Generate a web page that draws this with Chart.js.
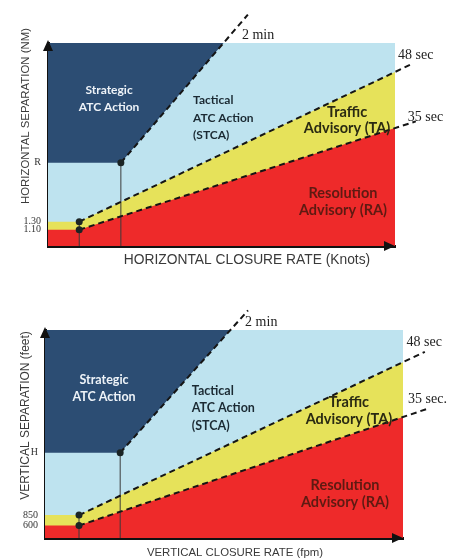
<!DOCTYPE html>
<html>
<head>
<meta charset="utf-8">
<script src="https://cdn.jsdelivr.net/npm/chart.js@4.4.0/dist/chart.umd.min.js"></script>
<style>
  html, body { margin: 0; padding: 0; background: #fff; }
  .box { position: relative; width: 463px; height: 280px; }
</style>
</head>
<body>
<div class="box"><canvas id="hChart"></canvas></div>
<div class="box"><canvas id="vChart"></canvas></div>
<script>
// schematic charts, both axes on a 0..100 grid
// horizontal (NM / knots)
const hTickValues = [8, 12, 41];
const hTickLabels = ["1.10", "1.30", "R"];
const hTwoMinX = [21, 57.6];
const hTwoMinY = [41, 114];
const h48secX = [9, 104.3];
const h48secY = [12, 89.2];
const h35secX = [9, 106];
const h35secY = [8, 61.4];

// vertical (feet / fpm)
const vTickValues = [6, 11, 41];
const vTickLabels = ["600", "850", "H"];
const vTwoMinX = [21, 56.7];
const vTwoMinY = [41, 109.4];
const v48secX = [9.5, 106.1];
const v48secY = [11, 89.5];
const v35secX = [9.5, 107.5];
const v35secY = [6, 62.5];

const LIGHT_BLUE = "#bee3ef";
const DARK_BLUE = "#2c4d73";
const YELLOW = "#e6e25a";
const RED = "#ee2a2a";

function pts(xs, ys) {
    return xs.map((x, i) => ({ x: x, y: ys[i] }));
}

const notesPlugin = {
    id: "notes",
    afterDatasetsDraw(chart, args, opts) {
        const ctx = chart.ctx;
        const sx = chart.scales.x, sy = chart.scales.y;
        ctx.save();
        ctx.textBaseline = "middle";
        for (const r of opts.regions) {
            ctx.font = "bold " + r.size + "px Lato";
            ctx.fillStyle = r.color;
            ctx.textAlign = r.align;
            const px = sx.getPixelForValue(r.x);
            const py = sy.getPixelForValue(r.y);
            const top = py - (r.lines.length - 1) * r.lh / 2;
            r.lines.forEach((t, i) => ctx.fillText(t, px, top + i * r.lh));
        }
        ctx.font = "14px 'Liberation Serif'";
        ctx.fillStyle = "#222";
        ctx.textAlign = "left";
        for (const n of opts.times) {
            ctx.fillText(n.text, sx.getPixelForValue(n.x), sy.getPixelForValue(n.y));
        }
        ctx.restore();
    },
    afterDraw(chart, args, opts) {
        const ctx = chart.ctx;
        const a = chart.chartArea;
        ctx.save();
        ctx.fillStyle = "#111";
        ctx.beginPath();
        ctx.moveTo(a.left, a.top - 3);
        ctx.lineTo(a.left - 5, a.top + 8);
        ctx.lineTo(a.left + 5, a.top + 8);
        ctx.closePath();
        ctx.fill();
        ctx.beginPath();
        ctx.moveTo(a.right, a.bottom);
        ctx.lineTo(a.right - 11, a.bottom - 5);
        ctx.lineTo(a.right - 11, a.bottom + 5);
        ctx.closePath();
        ctx.fill();

        // axis titles
        ctx.fillStyle = "#3a3a3a";
        ctx.textAlign = "center";
        ctx.textBaseline = "middle";
        const xt = opts.xTitle, yt = opts.yTitle;
        ctx.font = xt.size + "px 'Liberation Sans'";
        ctx.fillText(xt.text, xt.x, xt.y);
        ctx.translate(yt.x, yt.y);
        ctx.rotate(-Math.PI / 2);
        ctx.font = yt.size + "px 'Liberation Sans'";
        ctx.fillText(yt.text, 0, 0);
        ctx.restore();
    }
};

function buildChart(id, c) {
    const region = { borderWidth: 0, pointRadius: 0 };
    const dashed = { borderColor: "#151515", borderWidth: 2, borderDash: [6, 4], pointRadius: 0, fill: false, clip: false, order: 1 };
    const guide = { borderColor: "#3a3a3a", borderWidth: 1, pointRadius: 0, fill: false, order: 2 };
    return new Chart(document.getElementById(id), {
        type: "line",
        data: {
            datasets: [
                { ...region, data: pts([0, 100], [100, 100]), fill: "start", backgroundColor: LIGHT_BLUE, order: 6 },
                { ...region, data: pts([0, ...c.twoMinX], [c.ticks[2], ...c.twoMinY]), fill: "end", backgroundColor: DARK_BLUE, order: 5 },
                { ...region, data: pts([0, ...c.x48], [c.ticks[1], ...c.y48]), fill: "start", backgroundColor: YELLOW, order: 4 },
                { ...region, data: pts([0, ...c.x35], [c.ticks[0], ...c.y35]), fill: "start", backgroundColor: RED, order: 3 },
                { ...guide, data: pts([c.twoMinX[0], c.twoMinX[0]], [0, c.twoMinY[0]]) },
                { ...guide, data: pts([c.x48[0], c.x48[0]], [0, c.y48[0]]) },
                { ...dashed, data: pts(c.twoMinX, c.twoMinY) },
                { ...dashed, data: pts(c.x48, c.y48) },
                { ...dashed, data: pts(c.x35, c.y35) },
                {
                    data: pts([c.twoMinX[0], c.x48[0], c.x35[0]], [c.twoMinY[0], c.y48[0], c.y35[0]]),
                    showLine: false, pointRadius: 3.5, pointBackgroundColor: "#1b2424",
                    pointBorderWidth: 0, order: 0
                }
            ]
        },
        options: {
            responsive: true,
            maintainAspectRatio: false,
            animation: false,
            events: [],
            layout: { padding: { top: c.padTop, right: c.padRight, left: 0, bottom: 0 } },
            plugins: {
                legend: { display: false },
                tooltip: { enabled: false },
                notes: { regions: c.regions, times: c.times, xTitle: c.xTitle, yTitle: c.yTitle }
            },
            scales: {
                x: {
                    type: "linear", min: 0, max: 100,
                    grid: { display: false, drawTicks: false },
                    border: { display: true, color: "#111", width: 3 },
                    ticks: { display: false },
                    afterFit: (s) => { s.height = c.xBox; }
                },
                y: {
                    type: "linear", min: 0, max: 100,
                    grid: { display: false, drawTicks: false },
                    border: { display: true, color: "#111", width: 3 },
                    afterBuildTicks: (s) => { s.ticks = c.ticks.map((v) => ({ value: v })); },
                    ticks: {
                        autoSkip: false, padding: 7, color: "#333",
                        font: { family: "Liberation Serif", size: 10 },
                        callback: (v, i) => c.tickLabels[i]
                    },
                    afterFit: (s) => { s.width = c.yBox; }
                }
            }
        },
        plugins: [notesPlugin]
    });
}

buildChart("hChart", {
    ticks: hTickValues, tickLabels: hTickLabels,
    twoMinX: hTwoMinX, twoMinY: hTwoMinY,
    x48: h48secX, y48: h48secY, x35: h35secX, y35: h35secY,
    xTitle: { text: "HORIZONTAL CLOSURE RATE (Knots)", x: 247, y: 260, size: 13.8 },
    yTitle: { text: "HORIZONTAL SEPARATION (NM)", x: 26, y: 116, size: 11.4 },
    padTop: 43, padRight: 68, yBox: 48, xBox: 34,
    regions: [
        { lines: ["Strategic", "ATC Action"], x: 17.6, y: 72.7, color: "#eef3f8", align: "center", size: 12, lh: 17 },
        { lines: ["Tactical", "ATC Action", "(STCA)"], x: 41.8, y: 63, color: "#1b2a33", align: "left", size: 12, lh: 17.5 },
        { lines: ["Traffic", "Advisory (TA)"], x: 86.2, y: 62, color: "#2a2a12", align: "center", size: 14.5, lh: 16.5 },
        { lines: ["Resolution", "Advisory (RA)"], x: 85, y: 21.9, color: "#5e1a12", align: "center", size: 14.5, lh: 17 }
    ],
    times: [
        { text: "2 min", x: 55.9, y: 104 },
        { text: "48 sec", x: 100.9, y: 94 },
        { text: "35 sec", x: 103.7, y: 63.5 }
    ]
});

buildChart("vChart", {
    ticks: vTickValues, tickLabels: vTickLabels,
    twoMinX: vTwoMinX, twoMinY: vTwoMinY,
    x48: v48secX, y48: v48secY, x35: v35secX, y35: v35secY,
    xTitle: { text: "VERTICAL CLOSURE RATE (fpm)", x: 235, y: 273, size: 11.4 },
    yTitle: { text: "VERTICAL SEPARATION (feet)", x: 26, y: 135.5, size: 12 },
    padTop: 50, padRight: 60, yBox: 45, xBox: 22,
    regions: [
        { lines: ["Strategic", "ATC Action"], x: 16.5, y: 72, color: "#eef3f8", align: "center", size: 12.5, lh: 17.5 },
        { lines: ["Tactical", "ATC Action", "(STCA)"], x: 41, y: 62.5, color: "#1b2a33", align: "left", size: 12.5, lh: 17.5 },
        { lines: ["Traffic", "Advisory (TA)"], x: 84.9, y: 61.3, color: "#2a2a12", align: "center", size: 14.5, lh: 17 },
        { lines: ["Resolution", "Advisory (RA)"], x: 83.8, y: 21.4, color: "#5e1a12", align: "center", size: 14.5, lh: 17 }
    ],
    times: [
        { text: "2 min", x: 55.9, y: 103.8 },
        { text: "48 sec", x: 101, y: 94.2 },
        { text: "35 sec.", x: 101.4, y: 66.8 }
    ]
});
</script>
</body>
</html>
